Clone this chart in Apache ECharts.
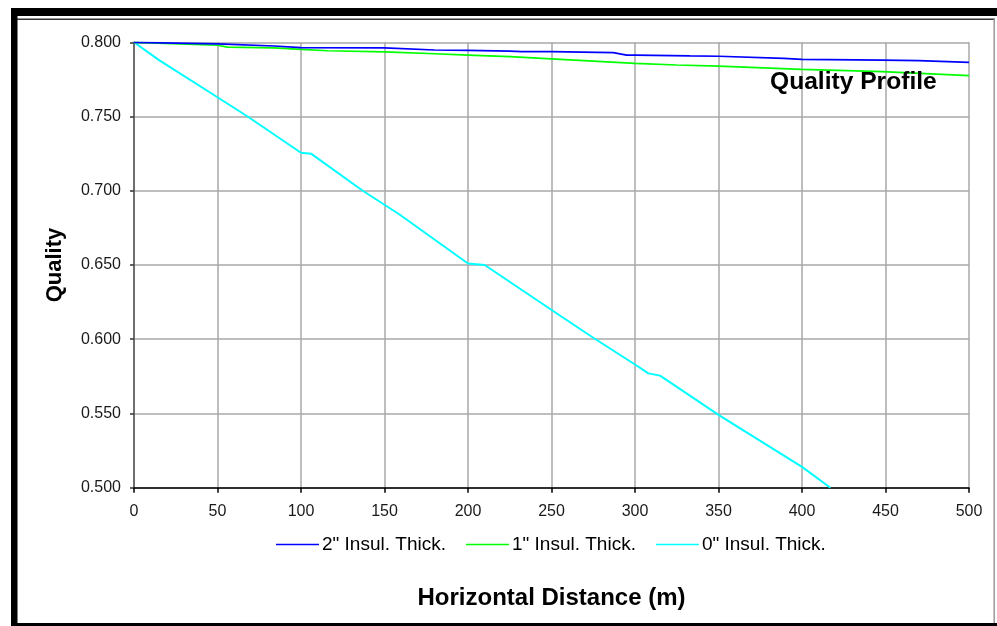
<!DOCTYPE html>
<html>
<head>
<meta charset="utf-8">
<title>Quality Profile</title>
<script src="https://cdn.jsdelivr.net/npm/echarts@6/dist/echarts.min.js"></script>
<style>
  html, body { margin: 0; padding: 0; background: #fff; }
  #chart { width: 997px; height: 626px; }
</style>
</head>
<body>
<div id="chart"></div>
<script>
// values
const xTicks = [0, 50, 100, 150, 200, 250, 300, 350, 400, 450, 500];

const dist2in = [0, 50, 84, 100, 150, 180, 200, 225, 232, 250, 287, 295, 300, 333, 350, 389, 400, 448, 470, 500];
const qual2in = [0.800, 0.7989, 0.7975, 0.7964, 0.7962, 0.7948, 0.7946, 0.7940, 0.7937, 0.7937, 0.7930, 0.7914, 0.7914, 0.7908, 0.7906, 0.7892, 0.7885, 0.7880, 0.7876, 0.7865];

const dist1in = [0, 50, 56, 84, 100, 116, 150, 180, 200, 225, 250, 300, 325, 350, 400, 448, 500];
const qual1in = [0.800, 0.7980, 0.7968, 0.7962, 0.7953, 0.7943, 0.7935, 0.7923, 0.7914, 0.7903, 0.7889, 0.7858, 0.7847, 0.7840, 0.7818, 0.7802, 0.7775];

const dist0in = [0, 15, 50, 68, 100, 106, 137, 159, 200, 210, 255, 275, 300, 308, 315, 350, 400, 417];
const qual0in = [0.800, 0.788, 0.763, 0.750, 0.7256, 0.7250, 0.700, 0.684, 0.651, 0.650, 0.616, 0.601, 0.583, 0.577, 0.5755, 0.549, 0.514, 0.500];

const seriesNames = ['2" Insul. Thick.', '1" Insul. Thick.', '0" Insul. Thick.'];
const seriesColors = ['#0000ff', '#00ff00', '#00ffff'];

const zip = (xs, ys) => xs.map((x, i) => [x, ys[i]]);
const seriesData = [zip(dist2in, qual2in), zip(dist1in, qual1in), zip(dist0in, qual0in)];

const chart = echarts.init(document.getElementById('chart'));
const font = 'Liberation Sans, Arial, sans-serif';

chart.setOption({
  animation: false,
  backgroundColor: '#fff',
  title: {
    text: 'Quality Profile',
    left: 770, top: 70, padding: 0,
    textStyle: { fontFamily: font, fontWeight: 'bold', fontSize: 24.6, color: '#000' }
  },
  legend: {
    left: 276, top: 535, padding: 0,
    icon: 'rect', itemWidth: 43, itemHeight: 1.5, itemGap: 20,
    textStyle: { fontFamily: font, fontSize: 19, color: '#000', padding: [0, 0, 0, -2] },
    data: seriesNames
  },
  grid: { left: 134, right: 28, top: 42.3, bottom: 138.3, containLabel: false },
  xAxis: {
    type: 'value', min: 0, max: 500, interval: 50,
    name: 'Horizontal Distance (m)', nameLocation: 'middle', nameGap: 99,
    nameTextStyle: { fontFamily: font, fontWeight: 'bold', fontSize: 24, color: '#000' },
    axisLine: { lineStyle: { color: '#000', width: 1.5 } },
    axisTick: { show: true, length: 5, lineStyle: { color: '#000', width: 1.5 } },
    axisLabel: { margin: 16, fontFamily: font, fontSize: 16, color: '#1a1a1a',
      customValues: xTicks },
    splitLine: { show: true, lineStyle: { color: '#a8a8a8', width: 1.5 } }
  },
  yAxis: {
    type: 'value', min: 0.5, max: 0.8, interval: 0.05,
    name: 'Quality', nameLocation: 'middle', nameGap: 68,
    nameTextStyle: { fontFamily: font, fontWeight: 'bold', fontSize: 22, color: '#000' },
    axisLine: { show: true, lineStyle: { color: '#555', width: 1.5 } },
    axisTick: { show: true, length: 4, lineStyle: { color: '#333', width: 1.5 } },
    axisLabel: { margin: 13, fontFamily: font, fontSize: 16, color: '#1a1a1a',
      formatter: v => v.toFixed(3) },
    splitLine: { show: true, lineStyle: { color: '#a8a8a8', width: 1.5 } }
  },
  series: seriesNames.map((name, i) => ({
    name: name,
    type: 'line',
    data: seriesData[i],
    showSymbol: false,
    symbol: 'none',
    color: seriesColors[i],
    lineStyle: { color: seriesColors[i], width: i === 2 ? 2 : 1.7 },
    z: 3 - i
  })),
  graphic: [
    { type: 'rect', silent: true, shape: { x: 11, y: 8, width: 986, height: 8 }, style: { fill: '#000' } },
    { type: 'rect', silent: true, shape: { x: 11, y: 8, width: 6.5, height: 618 }, style: { fill: '#000' } },
    { type: 'rect', silent: true, shape: { x: 11, y: 623, width: 986, height: 3 }, style: { fill: '#000' } },
    { type: 'line', silent: true, shape: { x1: 17, y1: 19.2, x2: 995, y2: 19.2 }, style: { stroke: '#333', lineWidth: 1.5 } },
    { type: 'line', silent: true, shape: { x1: 994.2, y1: 19, x2: 994.2, y2: 623 }, style: { stroke: '#999', lineWidth: 1.5 } }
  ]
});
</script>
</body>
</html>
